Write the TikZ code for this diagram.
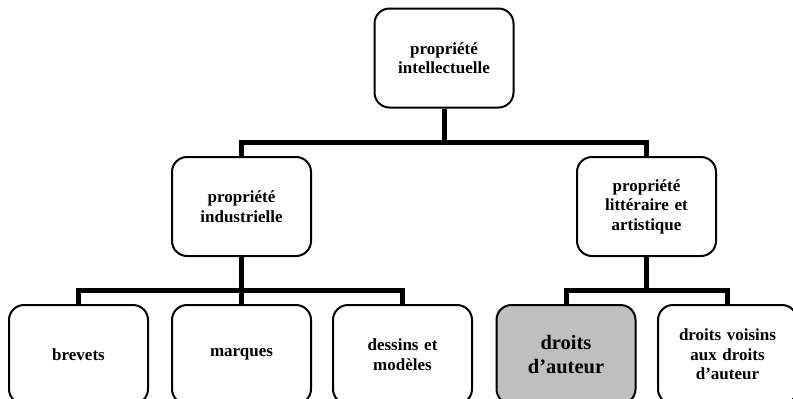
\documentclass[tikz,border=0pt]{standalone}
\usepackage{fontspec}
\setmainfont{Liberation Serif}
\usetikzlibrary{calc}

\tikzset{
  box/.style={draw, line width=2pt, rounded corners=15pt, fill=white,
    minimum width=139pt, minimum height=99pt, inner sep=0pt,
    text width=134pt, align=center,
    font=\bfseries\fontsize{17}{19.5}\selectfont},
  bigbox/.style={box, fill=black!25, font=\bfseries\fontsize{20.5}{24}\selectfont},
  bar/.style={line width=5pt}
}

\begin{document}
\begin{tikzpicture}[x=1pt, y=-1pt]

\useasboundingbox (0,0) rectangle (793,399);
\clip (0,0) rectangle (793,399);

\coordinate (B1) at (0,142);
\coordinate (B2) at (0,290);

\node[box] (PI) at (444,58) {propriété\\intellectuelle};
\node[box] (PInd) at (241.5,206.5) {propriété\\industrielle};
\node[box] (PLit) at (646.5,206.5) {propriété\\littéraire et\\artistique};

\node[box] (Br) at (78.5,354.5) {brevets};
\node[box] (Ma) at (241.5,354.5) {marques};
\node[box] (De) at (402.5,354.5) {dessins et\\modèles};
\node[bigbox] (DA) at (566,354.5) {droits\\d’auteur};
\node[box] (DV) at (727.5,354.5) {droits voisins\\aux droits\\d’auteur};

\draw[bar] (PI.south) -- (PI.south |- B1);
\draw[bar] (PInd.north) -- (PInd.north |- B1) -| (PLit.north);

\draw[bar] (PInd.south) -- (PInd.south |- B2);
\draw[bar] (Br.north) -- (Br.north |- B2) -| (De.north);
\draw[bar] (Ma.north) -- (Ma.north |- B2);

\draw[bar] (PLit.south) -- (PLit.south |- B2);
\draw[bar] (DA.north) -- (DA.north |- B2) -| (DV.north);

\end{tikzpicture}
\end{document}
